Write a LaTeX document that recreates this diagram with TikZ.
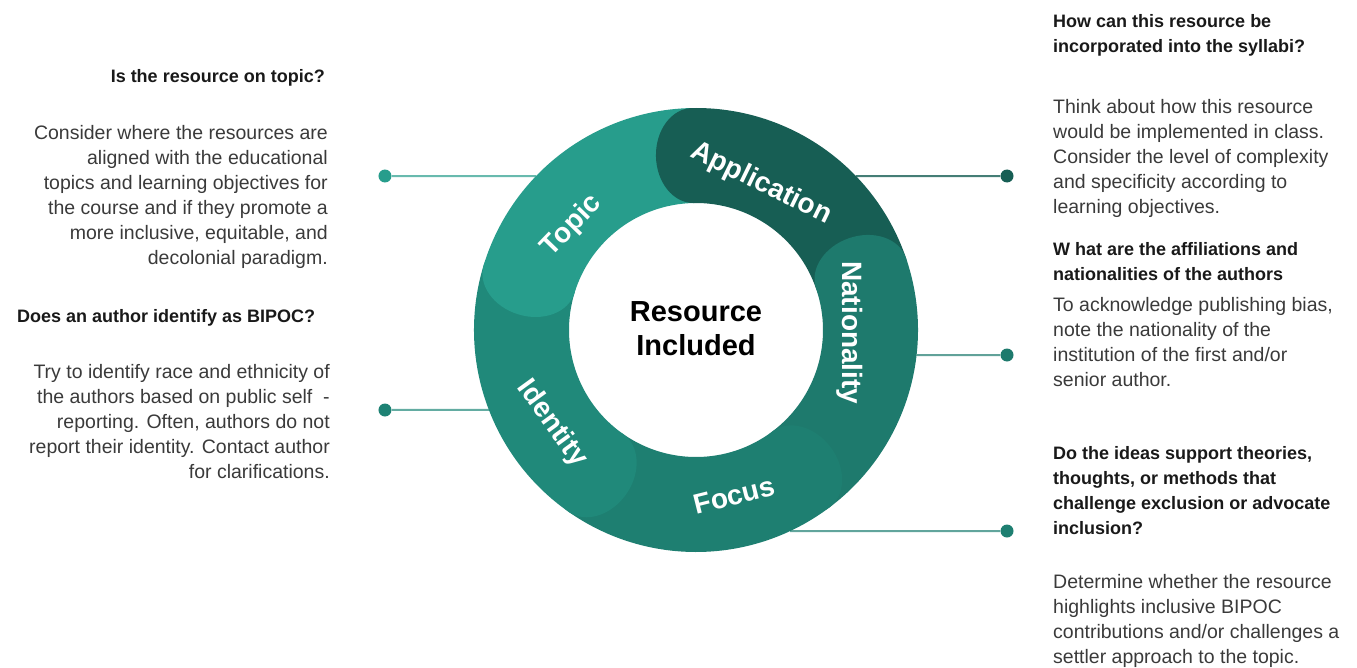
\documentclass[tikz,border=0pt]{standalone}
\usepackage{fontspec}
\setmainfont{Liberation Sans}
\usetikzlibrary{positioning}

\definecolor{topiccol}{HTML}{279D8C}
\definecolor{appcol}{HTML}{175E54}
\definecolor{natcol}{HTML}{1E7A6D}
\definecolor{focuscol}{HTML}{1E7F71}
\definecolor{identcol}{HTML}{20897A}
\definecolor{bodygrey}{HTML}{3A3A3A}

\tikzstyle{ringlabel} = [text=white, font=\fontsize{28}{28}\selectfont\bfseries, inner sep=0pt]
\tikzstyle{head} = [text=black!90, font=\fontsize{18}{25}\selectfont\bfseries, inner sep=0pt]
\tikzstyle{body} = [text=bodygrey, font=\fontsize{19.5}{25}\selectfont, inner sep=0pt]
\tikzstyle{dot} = [circle, inner sep=0pt, minimum size=13pt]
\tikzstyle{link} = [line width=2pt]
\def\rout{222pt}
\def\rin{127pt}
\def\rmid{174.5pt}

\begin{document}
\begin{tikzpicture}[x=1pt, y=1pt]
\useasboundingbox (-696,-337) rectangle (661,330);

% connectors, under the ring
\node (dtopic) [dot, fill=topiccol] at (-311,154) {};
\node (dident) [dot, fill=identcol!95!black] at (-311,-80) {};
\node (dapp) [dot, fill=appcol] at (311,154) {};
\node (dnat) [dot, fill=natcol] at (311,-25) {};
\node (dfocus) [dot, fill=focuscol] at (311,-201) {};
\coordinate (ctopic) at (136.1:\rout);
\coordinate (cident) at (201.1:\rout);
\coordinate (capp) at (43.9:\rout);
\coordinate (cnat) at (-6.5:\rout);
\coordinate (cfocus) at (-64.9:\rout);
\draw [link, topiccol!70!white] (dtopic) -- (ctopic);
\draw [link, identcol!70!white] (dident) -- (cident);
\draw [link, appcol!80!white] (dapp) -- (capp);
\draw [link, natcol!70!white] (dnat) -- (cnat);
\draw [link, focuscol!70!white] (dfocus) -- (cfocus);

% ring segments, then the rounded ends on top
\foreach \a/\b/\col in {-53/19/natcol, 19/91/appcol, 91/163/topiccol, 163/235/identcol, 235/307/focuscol}
  \fill [\col] (\a:\rout) arc (\a:\b:\rout) -- (\b:\rin) arc (\b:\a:\rin) -- cycle;
\foreach \b/\col in {19/natcol, 91/appcol, 163/topiccol, 235/identcol, 307/focuscol}
  \fill [\col, shift={(\b:\rmid)}, rotate=\b] (0,0) ellipse [x radius=47.5pt, y radius=37pt];

\node (lapp) [ringlabel, rotate=-26] at (66:160) {Application};
\node (ltopic) [ringlabel, rotate=46] at (140:162) {Topic};
\node (lnat) [ringlabel, rotate=-90] at (-1:154) {Nationality};
\node (lfocus) [ringlabel, rotate=14] at (-77:170) {Focus};
\node (lident) [ringlabel, rotate=-54] at (213:172) {Identity};

\node (core) [font=\fontsize{29}{34}\selectfont\bfseries, align=center] at (0,1) {Resource\\Included};

% left texts (base = last line)
\node (qtopic) [head, anchor=base east] at (-371,247) {Is the resource on topic?};
\node (ttopic) [body, align=right, anchor=base east] at (-368,66) {Consider where the resources are\\aligned with the educational\\topics and learning objectives for\\the course and if they promote a\\more inclusive, equitable, and\\decolonial paradigm.};
\node (qident) [head, anchor=base west] at (-679,8) {Does an author identify as BIPOC?};
\node (tident) [body, align=right, anchor=base east] at (-366,-148) {Try to identify race and ethnicity of\\the authors based on public self~~-\\reporting. Often, authors do not\\report their identity. Contact author\\for clarifications.};

% right texts
\node (qapp) [head, align=left, anchor=base west] at (357,277) {How can this resource be\\incorporated into the syllabi?};
\node (tapp) [body, align=left, anchor=base west] at (357,117) {Think about how this resource\\would be implemented in class.\\Consider the level of complexity\\and specificity according to\\learning objectives.};
\node (qnat) [head, align=left, anchor=base west] at (357,50) {W hat are the affiliations and\\nationalities of the authors};
\node (tnat) [body, align=left, anchor=base west] at (357,-56) {To acknowledge publishing bias,\\note the nationality of the\\institution of the first and/or\\senior author.};
\node (qfocus) [head, align=left, anchor=base west] at (357,-204) {Do the ideas support theories,\\thoughts, or methods that\\challenge exclusion or advocate\\inclusion?};
\node (tfocus) [body, align=left, anchor=base west] at (357,-333) {Determine whether the resource\\highlights inclusive BIPOC\\contributions and/or challenges a\\settler approach to the topic.};
\end{tikzpicture}
\end{document}
